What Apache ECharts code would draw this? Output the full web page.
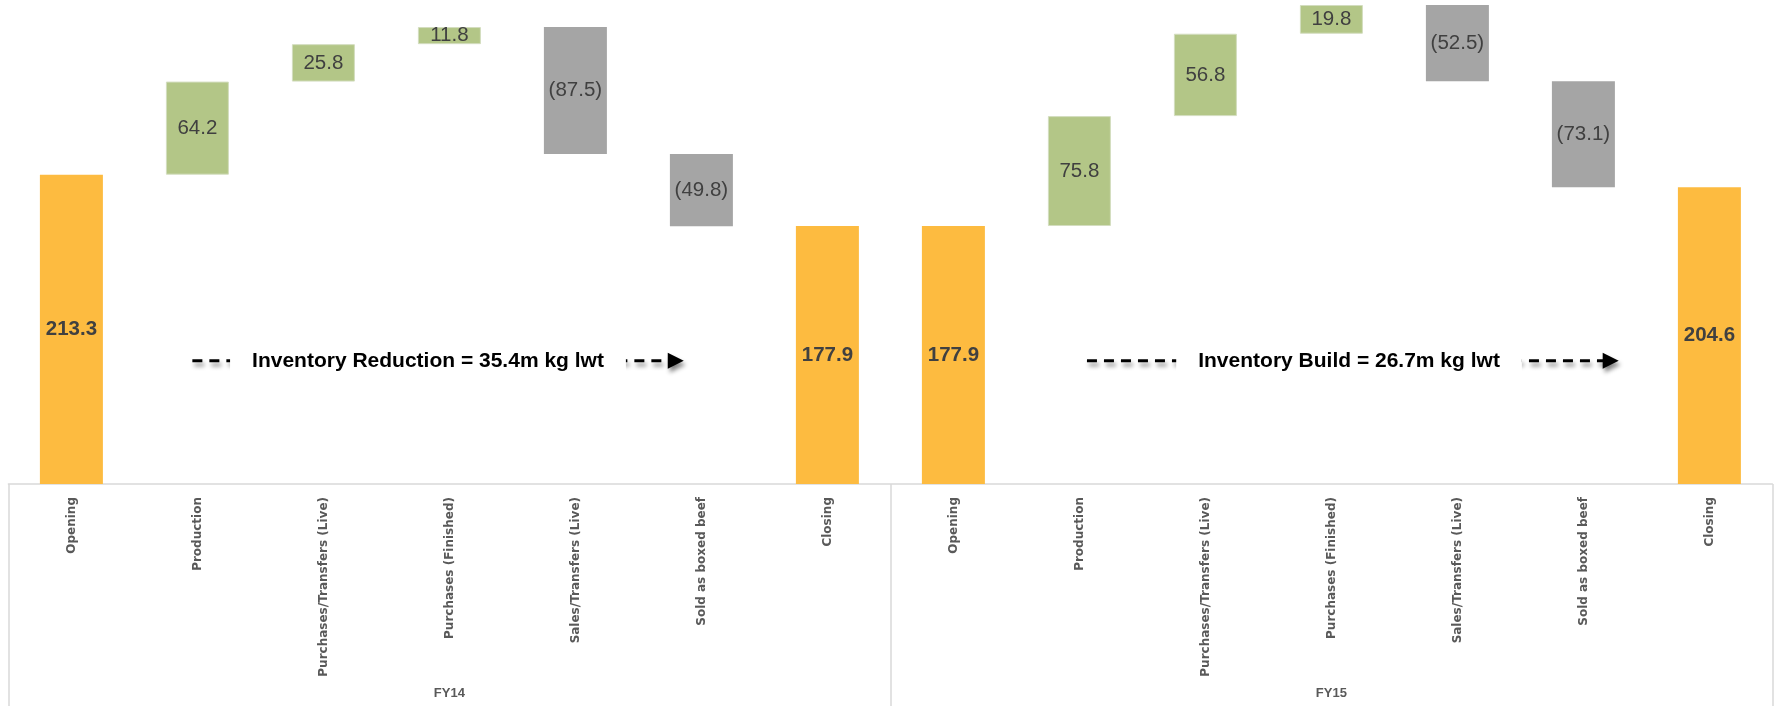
<!DOCTYPE html>
<html>
<head>
<meta charset="utf-8">
<script src="https://cdn.jsdelivr.net/npm/echarts@6/dist/echarts.min.js"></script>
<style>
  html, body { margin: 0; padding: 0; background: #ffffff; }
  #chart { width: 1777px; height: 706px; }
</style>
</head>
<body>
<div id="chart"></div>
<script>
// Inventory movement steps, repeated for each financial year
const steps = ['Opening', 'Production', 'Purchases/Transfers (Live)', 'Purchases (Finished)',
               'Sales/Transfers (Live)', 'Sold as boxed beef', 'Closing'];
const years = ['FY14', 'FY15'];

// Signed movements (m kg lwt); first and last entries are the opening/closing balances
const fy14 = [213.3, 64.2, 25.8, 11.8, -87.5, -49.8, 177.9];
const fy15 = [177.9, 75.8, 56.8, 19.8, -52.5, -73.1, 204.6];

// Net change notes for each year, with their anchor positions in category units
const notes = ['Inventory Reduction = 35.4m kg lwt', 'Inventory Build = 26.7m kg lwt'];
const noteFrom = [0.96, 8.06];
const noteTo = [4.86, 12.28];
const noteMid = [2.83, 10.14];
const noteLevel = 85;

const COLOR_TOTAL = '#FDBB40';
const COLOR_UP = '#B3C687';
const COLOR_DOWN = '#A5A5A5';

function buildWaterfall(vals) {
  let run = 0;
  const base = [], height = [], kind = [];
  vals.forEach((v, i) => {
    if (i === 0 || i === vals.length - 1) {
      base.push(0); height.push(v); kind.push('total'); run = v;
    } else if (v >= 0) {
      base.push(run); height.push(v); kind.push('up'); run += v;
    } else {
      run += v; base.push(run); height.push(-v); kind.push('down');
    }
  });
  return { base, height, kind };
}

const w14 = buildWaterfall(fy14);
const w15 = buildWaterfall(fy15);
const categories = steps.concat(steps);
const signed = fy14.concat(fy15);
const bases = w14.base.concat(w15.base);
const heights = w14.height.concat(w15.height);
const kinds = w14.kind.concat(w15.kind);

function fmt(v) {
  return v < 0 ? '(' + Math.abs(v).toFixed(1) + ')' : v.toFixed(1);
}

const barData = heights.map((h, i) => {
  const k = kinds[i];
  return {
    value: h,
    itemStyle: {
      color: k === 'total' ? COLOR_TOTAL : (k === 'up' ? COLOR_UP : COLOR_DOWN),
      borderColor: k === 'up' ? '#d3ddbf' : 'transparent',
      borderWidth: k === 'up' ? 1 : 0
    },
    label: { fontWeight: k === 'total' ? 'bold' : 'normal' }
  };
});

const chart = echarts.init(document.getElementById('chart'), null, { renderer: 'canvas' });

chart.setOption({
  animation: false,
  backgroundColor: '#ffffff',
  grid: { left: 8.4, right: 4.6, top: 4, bottom: 222 },
  xAxis: [
    {
      type: 'category',
      data: categories,
      position: 'bottom',
      axisLine: { show: true, lineStyle: { color: '#d9d9d9', width: 1.5 } },
      axisTick: { show: false },
      axisLabel: {
        interval: 0, rotate: 90, margin: 13,
        fontFamily: 'DejaVu Sans', fontWeight: 'bold', fontSize: 12, color: '#595959'
      },
      splitLine: { show: false }
    },
    {
      type: 'category',
      data: years,
      position: 'bottom',
      axisLine: { show: false },
      axisTick: { show: true, length: 240, lineStyle: { color: '#d9d9d9', width: 1.5 } },
      axisLabel: {
        margin: 203,
        fontFamily: 'Liberation Sans', fontWeight: 'bold', fontSize: 13, color: '#595959'
      },
      splitLine: { show: false }
    }
  ],
  yAxis: {
    type: 'value', min: 0, max: 331,
    show: false,
    splitLine: { show: false }
  },
  series: [
    {
      name: 'base',
      type: 'bar',
      stack: 'flow',
      silent: true,
      barWidth: '50%',
      itemStyle: { color: 'transparent' },
      data: bases
    },
    {
      name: 'movement',
      type: 'bar',
      stack: 'flow',
      barWidth: '50%',
      data: barData,
      label: {
        show: true,
        position: 'inside',
        fontFamily: 'Liberation Sans',
        fontSize: 20.5,
        color: '#404040',
        formatter: p => fmt(signed[p.dataIndex])
      }
    }
  ]
});

// Dashed arrows with the net-change notes, anchored on the category axis
function catX(idx) {
  const p0 = chart.convertToPixel({ xAxisIndex: 0 }, 0);
  const p1 = chart.convertToPixel({ xAxisIndex: 0 }, 1);
  return p0 + (p1 - p0) * idx;
}
const yLevel = chart.convertToPixel({ yAxisIndex: 0 }, noteLevel);
const shadow = { shadowBlur: 4, shadowOffsetX: 2, shadowOffsetY: 4, shadowColor: 'rgba(0,0,0,0.45)' };
const elements = [];
notes.forEach((txt, i) => {
  const x1 = catX(noteFrom[i]);
  const x2 = catX(noteTo[i]);
  const xm = catX(noteMid[i]);
  elements.push({
    type: 'line', z: 10,
    shape: { x1: x1, y1: yLevel, x2: x2 - 12, y2: yLevel },
    style: Object.assign({ stroke: '#000000', lineWidth: 3, lineDash: [10, 7] }, shadow)
  });
  elements.push({
    type: 'polygon', z: 10,
    shape: { points: [[x2 - 16, yLevel - 8], [x2, yLevel], [x2 - 16, yLevel + 8]] },
    style: Object.assign({ fill: '#000000' }, shadow)
  });
  elements.push({
    type: 'text', z: 20,
    x: xm, y: yLevel,
    style: {
      text: txt,
      font: 'bold 21px "Liberation Sans"',
      fill: '#000000',
      align: 'center',
      verticalAlign: 'middle',
      backgroundColor: '#ffffff',
      padding: [6, 22, 6, 22]
    }
  });
});
chart.setOption({ graphic: { elements: elements } });
</script>
</body>
</html>
